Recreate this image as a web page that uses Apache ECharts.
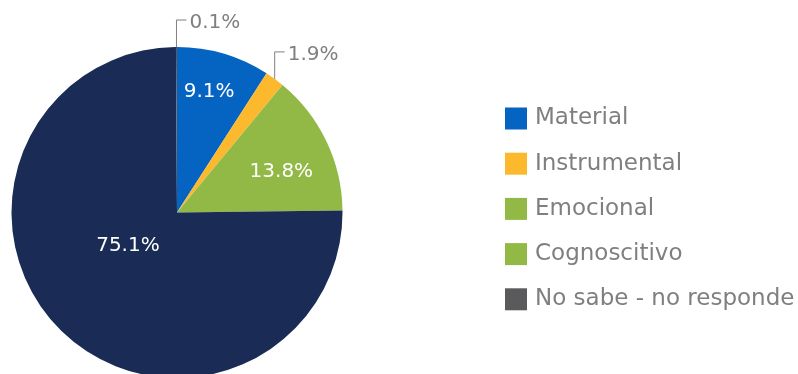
<!DOCTYPE html>
<html>
<head>
<meta charset="utf-8">
<script src="https://cdn.jsdelivr.net/npm/echarts@6/dist/echarts.min.js"></script>
<style>
html,body{margin:0;padding:0;background:#fff;}
#chart{width:798px;height:374px;}
</style>
</head>
<body>
<div id="chart"></div>
<script>
const categories = ['Material', 'Instrumental', 'Emocional', 'Cognoscitivo', 'No sabe - no responde'];
const values = [9.1, 1.9, 13.8, 75.1, 0.1];
const sliceColors = ['#0563c1', '#fdb92e', '#92b946', '#1a2c56', '#5a5a5d'];
const legendColors = ['#0563c1', '#fdb92e', '#92b946', '#92b946', '#5a5a5d'];
const outsideIdx = [1, 4];

const FONT = '"DejaVu Sans", sans-serif';
const chart = echarts.init(document.getElementById('chart'));

const insideOffsets = { 0: [8, -38], 2: [27, -4], 3: [11, -28] };

const data = categories.map((name, i) => {
  const outside = outsideIdx.includes(i);
  return {
    name: name,
    value: values[i],
    itemStyle: { color: sliceColors[i] },
    label: outside
      ? { position: 'outside', color: '#7f7f7f' }
      : { position: 'inside', color: '#ffffff' },
    labelLine: { show: outside }
  };
});

chart.setOption({
  animation: false,
  legend: {
    orient: 'vertical',
    left: 500,
    top: 102,
    itemWidth: 22,
    itemHeight: 22,
    itemGap: 22.2,
    icon: 'rect',
    selectedMode: false,
    textStyle: { fontFamily: FONT, fontSize: 23, color: '#7f7f7f', padding: [0, 0, 0, 3] },
    data: categories.map((name, i) => ({ name: name, itemStyle: { color: legendColors[i] } }))
  },
  series: [{
    type: 'pie',
    center: [177, 212.5],
    radius: 165.5,
    startAngle: 90,
    clockwise: true,
    avoidLabelOverlap: false,
    label: {
      show: true,
      formatter: p => p.value.toFixed(1) + '%',
      fontFamily: FONT,
      fontSize: 20
    },
    labelLine: { show: false, lineStyle: { color: '#7f7f7f', width: 1 } },
    labelLayout: function (params) {
      const i = params.dataIndex;
      if (outsideIdx.includes(i) && params.labelLinePoints) {
        const p0 = params.labelLinePoints[0];
        const sx = p0[0], sy = p0[1];
        return {
          x: sx + 13,
          y: sy - 24,
          align: 'left',
          verticalAlign: 'middle',
          labelLinePoints: [[sx, sy], [sx, sy - 27], [sx + 10, sy - 27]]
        };
      }
      const off = insideOffsets[i] || [0, 0];
      return { dx: off[0], dy: off[1] };
    },
    emphasis: { disabled: true },
    data: data
  }]
});
</script>
</body>
</html>
